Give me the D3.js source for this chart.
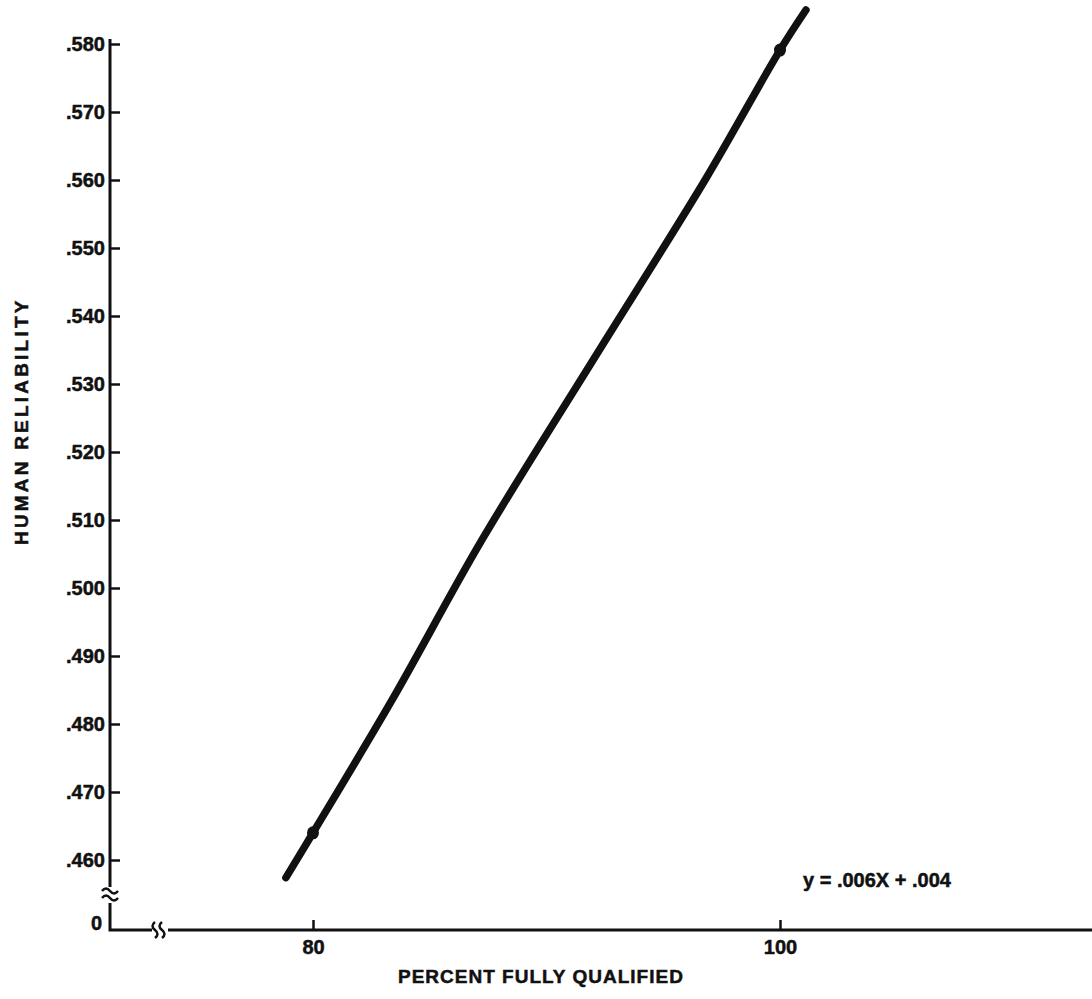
<!DOCTYPE html>
<html>
<head>
<meta charset="utf-8">
<script src="https://cdn.jsdelivr.net/npm/d3@7"></script>
<style>
  html, body { margin: 0; padding: 0; background: #fff; }
  svg { display: block; }
  text { font-family: "Liberation Sans", Arial, Helvetica, sans-serif; font-weight: bold; fill: #111; stroke: #111; stroke-width: 0.5px; }
</style>
</head>
<body>
<svg id="chart" width="1092" height="999"></svg>
<script>
// Regression line of reliability against percent of crew fully qualified
const percentQualified = [78.84, 80, 83.38, 87.24, 91.99, 96.79, 100, 101.11];
const humanReliability = [0.4574, 0.4640, 0.4835, 0.5071, 0.5335, 0.5600, 0.5791, 0.5850];

// Plotted observation points
const markerX = [80, 100];
const markerY = [0.4640, 0.5791];

// Axis ticks
const yTickValues = [0.46, 0.47, 0.48, 0.49, 0.50, 0.51, 0.52, 0.53, 0.54, 0.55, 0.56, 0.57, 0.58];
const yTickLabels = [".460", ".470", ".480", ".490", ".500", ".510", ".520", ".530", ".540", ".550", ".560", ".570", ".580"];
const xTickValues = [80, 100];
const xTickLabels = ["80", "100"];

const equationText = "y = .006X + .004";
const xTitle = "PERCENT FULLY QUALIFIED";
const yTitle = "HUMAN RELIABILITY";

const svg = d3.select("#chart");
const ink = "#111";
const font = "Liberation Sans, Arial, sans-serif";

const axisX = 110;      // position of vertical axis
const axisY = 930;      // position of horizontal axis

const x = d3.scaleLinear().domain([80, 100]).range([313, 780]);
const y = d3.scaleLinear().domain([0.46, 0.58]).range([860, 44]);

// ---- Y axis (ticks point inward, labels to the left)
const yAxis = d3.axisLeft(y)
  .tickValues(yTickValues)
  .tickFormat((d, i) => yTickLabels[i])
  .tickSize(-10)
  .tickPadding(5);

const gy = svg.append("g").attr("transform", `translate(${axisX},0)`).call(yAxis);
gy.select(".domain").remove();
gy.selectAll(".tick line").attr("stroke", ink).attr("stroke-width", 2.5);
gy.selectAll(".tick text").attr("font-size", 20).attr("font-weight", "bold")
  .attr("fill", ink).attr("font-family", font);

// ---- X axis (ticks point upward, labels below)
const xAxis = d3.axisBottom(x)
  .tickValues(xTickValues)
  .tickFormat((d, i) => xTickLabels[i])
  .tickSize(-10)
  .tickPadding(10);

const gx = svg.append("g").attr("transform", `translate(0,${axisY})`).call(xAxis);
gx.select(".domain").remove();
gx.selectAll(".tick line").attr("stroke", ink).attr("stroke-width", 2.5);
gx.selectAll(".tick text").attr("font-size", 20).attr("font-weight", "bold")
  .attr("fill", ink).attr("font-family", font);

// ---- Axis lines with scale breaks
function styled(sel, w = 3) {
  return sel.attr("stroke", ink).attr("stroke-width", w).attr("fill", "none");
}

// vertical axis: top part, break, bottom part joined to the horizontal axis
styled(svg.append("path").attr("d", `M${axisX},39 V887`));
styled(svg.append("path").attr("d", `M${axisX},903 V${axisY} H152`).attr("stroke-linejoin", "miter"));
styled(svg.append("path").attr("d", `M168,${axisY} H1092`));

// break marks on the vertical axis (≈)
styled(svg.append("path").attr("d", "M102,891 q4,-5 8,0 t8,0"), 2.5);
styled(svg.append("path").attr("d", "M102,898 q4,-5 8,0 t8,0"), 2.5);
// break marks on the horizontal axis
styled(svg.append("path").attr("d", `M155,${axisY - 8} q-5,4 0,8 t0,8`), 2.5);
styled(svg.append("path").attr("d", `M162,${axisY - 8} q-5,4 0,8 t0,8`), 2.5);

// zero label at the origin
svg.append("text")
  .attr("x", 102).attr("y", axisY - 5)
  .attr("text-anchor", "end").attr("dominant-baseline", "middle")
  .attr("font-size", 20).text("0");

// ---- Regression line
const line = d3.line()
  .x((d, i) => x(percentQualified[i]))
  .y((d, i) => y(humanReliability[i]))
  .curve(d3.curveCatmullRom.alpha(0.5));

svg.append("path")
  .datum(percentQualified)
  .attr("d", line)
  .attr("fill", "none")
  .attr("stroke", ink)
  .attr("stroke-width", 7.5)
  .attr("stroke-linecap", "round")
  .attr("stroke-linejoin", "round");

svg.selectAll("ellipse.obs")
  .data(markerX)
  .join("ellipse")
  .attr("class", "obs")
  .attr("cx", d => x(d))
  .attr("cy", (d, i) => y(markerY[i]))
  .attr("rx", 6).attr("ry", 6.5)
  .attr("fill", ink);

// ---- Equation
svg.append("text")
  .attr("x", 803).attr("y", 887)
  .attr("font-size", 20)
  .text(equationText);

// ---- Axis titles
svg.append("text")
  .attr("x", 398).attr("y", 983)
  .attr("font-size", 19)
  .attr("letter-spacing", 1)
  .text(xTitle);

svg.append("text")
  .attr("transform", "translate(28,545) rotate(-90)")
  .attr("font-size", 19)
  .attr("letter-spacing", 3.2)
  .text(yTitle);
</script>
</body>
</html>
